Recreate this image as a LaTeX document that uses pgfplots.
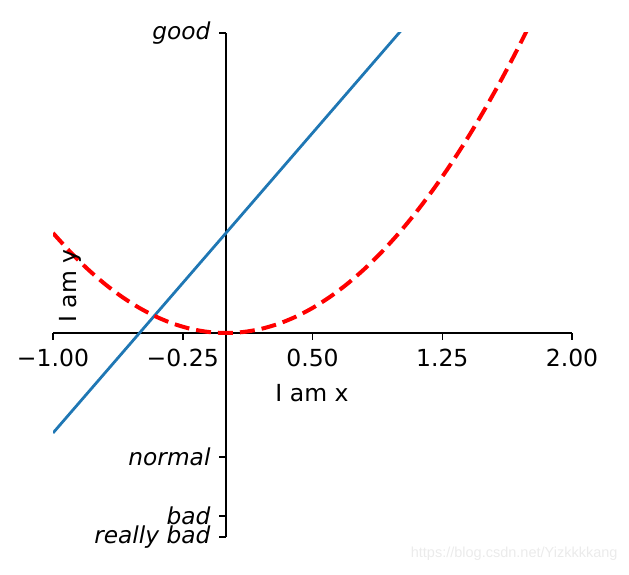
\documentclass[border=0pt]{standalone}
\usepackage{fontspec}
\setmainfont{DejaVu Sans}
\newfontfamily\wmfont{Liberation Sans}
\usepackage{pgfplots}
\pgfplotsset{compat=1.18}
\definecolor{mplblue}{HTML}{1F77B4}
\begin{document}
\begin{tikzpicture}
\path (0,0) rectangle (629pt,575pt);
\begin{axis}[
  at={(53pt,38pt)}, anchor=south west,
  scale only axis, width=519pt, height=504pt,
  xmin=-1, xmax=2, ymin=-2.04, ymax=3,
  axis lines=middle,
  axis line style={-, line width=1.5pt, black},
  tick align=outside,
  major tick length=7pt,
  tick style={line width=1.5pt, black},
  xtick={-1,-0.25,0.5,1.25,2},
  xticklabels={−1.00,−0.25,0.50,1.25,2.00},
  ytick={-2.04,-1.83,-1.24,3},
  yticklabels={really bad,bad,normal,good},
  x tick label style={font=\fontsize{23.5}{26}\selectfont, yshift=-6pt},
  y tick label style={font=\fontsize{23.3}{26}\selectfont\itshape, xshift=-5pt},
  /pgf/number format/assume math mode=true,
]
\addplot[mplblue, line width=2.8pt] coordinates {(-1,-1) (2,5)};
\addplot[red, line width=4pt, dash pattern=on 15pt off 7pt, smooth] coordinates {
(-1,1) (-0.9,0.81) (-0.8,0.64) (-0.7,0.49) (-0.6,0.36) (-0.5,0.25) (-0.4,0.16)
(-0.3,0.09) (-0.2,0.04) (-0.1,0.01) (0,0) (0.1,0.01) (0.2,0.04) (0.3,0.09)
(0.4,0.16) (0.5,0.25) (0.6,0.36) (0.7,0.49) (0.8,0.64) (0.9,0.81) (1,1)
(1.1,1.21) (1.2,1.44) (1.3,1.69) (1.4,1.96) (1.5,2.25) (1.6,2.56) (1.7,2.89)
(1.8,3.24) (1.9,3.61) (2,4)};
\end{axis}
\node[font=\fontsize{23.5}{26}\selectfont] at (312pt,182pt) {I am x};
\node[font=\fontsize{23.5}{26}\selectfont, rotate=90] at (70pt,289pt) {I am y};
\node[anchor=east, text=black!8, font=\wmfont\fontsize{14.5}{16}\selectfont] at (621pt,21pt) {https://blog.csdn.net/Yizkkkkang};
\end{tikzpicture}
\end{document}
